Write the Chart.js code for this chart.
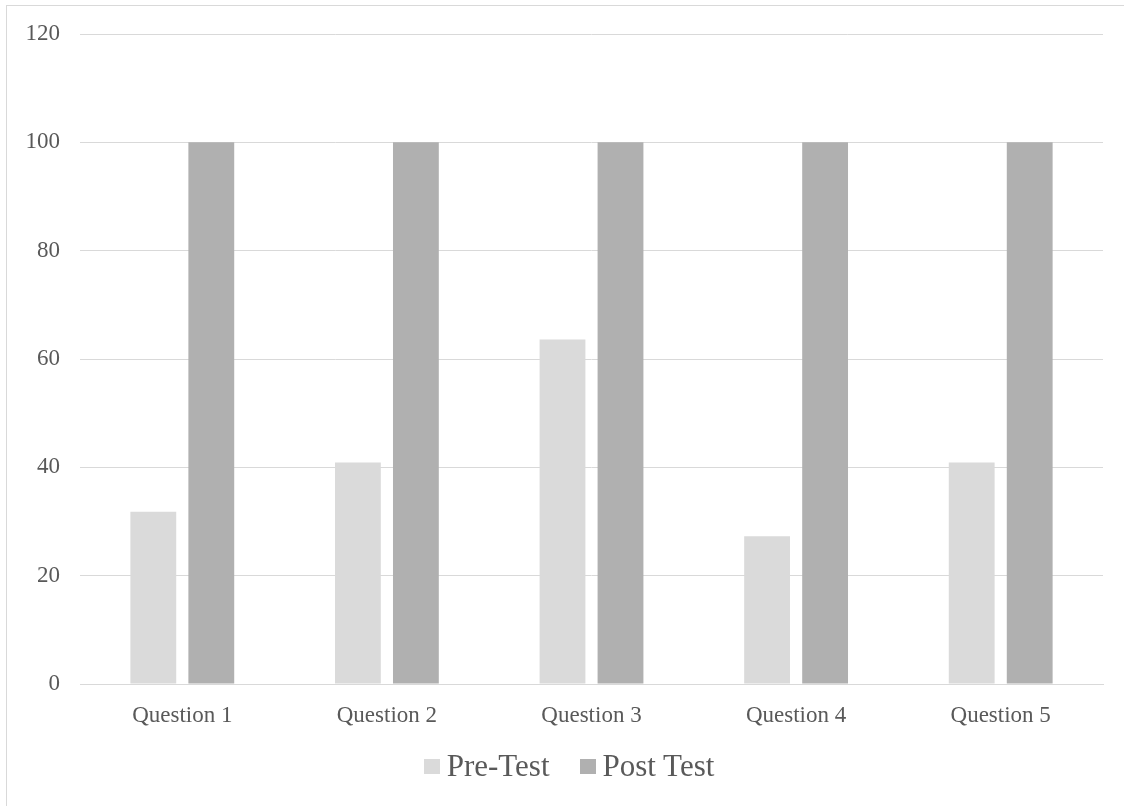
<!DOCTYPE html>
<html>
<head>
<meta charset="utf-8">
<script src="https://cdn.jsdelivr.net/npm/chart.js@4.4.0/dist/chart.umd.min.js"></script>
<style>
  body { margin: 0; background: #fff; }
  #wrap { position: relative; width: 1124px; height: 806px; overflow: hidden; }
  #frame { position: absolute; left: 6px; top: 5px; width: 1200px; height: 900px; border: 1px solid #d9d9d9; box-sizing: border-box; }
  #chartBox { position: absolute; left: 0; top: 0; width: 1124px; height: 806px; }
  #legend { position: absolute; left: 7px; top: 748px; width: 1124px; display: flex; justify-content: center;
            font-family: "Liberation Serif", "Times New Roman", serif; font-size: 31px; color: #595959; }
  .item { display: flex; align-items: center; margin: 0 15px; }
  .swatch { width: 16px; height: 15px; margin-right: 7px; }
</style>
</head>
<body>
<div id="wrap">
  <div id="frame"></div>
  <div id="chartBox"><canvas id="testChart" width="1124" height="806"></canvas></div>
  <div id="legend"></div>
</div>
<script>
// data
const categories = ['Question 1', 'Question 2', 'Question 3', 'Question 4', 'Question 5'];
const preTest = [31.8, 40.9, 63.6, 27.3, 40.9];
const postTest = [100, 100, 100, 100, 100];
const seriesNames = ['Pre-Test', 'Post Test'];
const yMin = 0;
const yMax = 120;
const yStep = 20;

const serif = '"Liberation Serif", "Times New Roman", serif';
const textColor = '#595959';
const gridColor = '#d9d9d9';

var ctx = document.getElementById('testChart').getContext('2d');
var testChart = new Chart(ctx, {
    type: 'bar',
    data: {
        labels: categories,
        datasets: [{
            label: seriesNames[0],
            data: preTest,
            backgroundColor: '#dadada',
            borderWidth: 0,
        }, {
            label: seriesNames[1],
            data: postTest,
            backgroundColor: '#b0b0b0',
            borderWidth: 0,
        }]
    },
    options: {
        responsive: false,
        animation: false,
        devicePixelRatio: 1,
        datasets: {
            bar: {
                categoryPercentage: 0.567,
                barPercentage: 0.79,
            }
        },
        layout: {
            padding: { left: 0, right: 21, top: 34, bottom: 76 }
        },
        plugins: {
            legend: { display: false },
            tooltip: { enabled: false },
        },
        scales: {
            x: {
                grid: { display: false, drawTicks: false },
                border: { display: true, color: gridColor, width: 1 },
                ticks: {
                    color: textColor,
                    font: { family: serif, size: 23 },
                    padding: 18,
                    maxRotation: 0,
                    autoSkip: false,
                },
                afterFit: function (scale) { scale.height = 46; },
            },
            y: {
                min: yMin,
                max: yMax,
                grid: { color: gridColor, lineWidth: 1, drawTicks: false },
                border: { display: false },
                ticks: {
                    stepSize: yStep,
                    color: textColor,
                    font: { family: serif, size: 23 },
                    padding: 20,
                },
                afterFit: function (scale) { scale.width = 80; },
            }
        }
    }
});

// legend built from the chart's own datasets
var legendBox = document.getElementById('legend');
testChart.data.datasets.forEach(function (ds) {
    var item = document.createElement('div');
    item.className = 'item';
    var sw = document.createElement('span');
    sw.className = 'swatch';
    sw.style.background = ds.backgroundColor;
    var txt = document.createElement('span');
    txt.textContent = ds.label;
    item.appendChild(sw);
    item.appendChild(txt);
    legendBox.appendChild(item);
});
</script>
</body>
</html>
